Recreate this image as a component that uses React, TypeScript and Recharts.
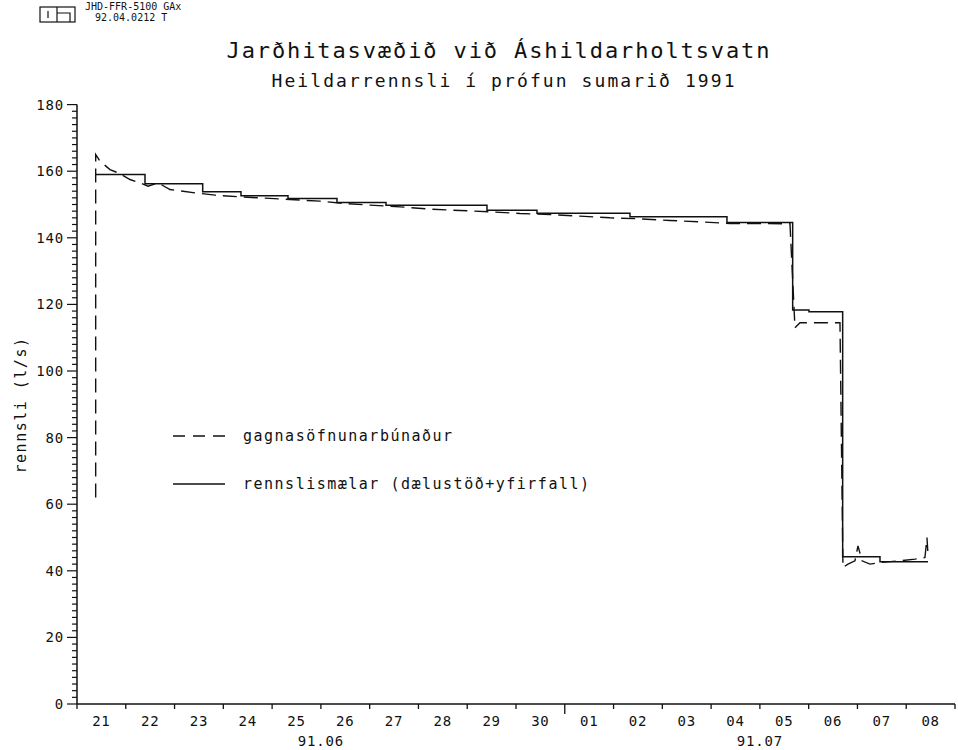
import React from "react";
import { LineChart, Line, XAxis, YAxis } from "recharts";

const FONT = "'DejaVu Sans Mono', 'Liberation Mono', monospace";
const INK = "#111";

// x = days since 21 June 1991 00:00 (18 days on the axis, to 08 July 24:00)
const DAY_LABELS = [
    "21", "22", "23", "24", "25", "26", "27", "28", "29", "30",
    "01", "02", "03", "04", "05", "06", "07", "08",
];
const MONTH_LABELS = ["91.06", "91.07"];
const MONTH_LABEL_DAY = [5, 14];
const MONTH_START_DAY = 10;
const Y_LABELS = [0, 20, 40, 60, 80, 100, 120, 140, 160, 180];

// rennslismælar (dælustöð+yfirfall) — stepped daily readings
const SOLID_T = [
    0.383, 1.394, 2.577, 3.362, 4.326, 5.33, 6.335, 8.405, 9.43, 11.337,
    13.325, 14.672, 15.006, 15.697, 16.462, 17.446,
];
const SOLID_V = [
    159, 156.2, 153.8, 152.6, 151.8, 150.6, 149.8, 148.3, 147.4, 146.3,
    144.6, 118.3, 117.8, 44.2, 42.7, 42.7,
];

// gagnasöfnunarbúnaður — logger record
const DASH_T = [
    0.383, 0.383, 0.472, 0.677, 0.841, 1.087, 1.292, 1.456, 1.661, 1.907,
    2.419, 2.829, 3.341, 3.854, 4.367, 4.982, 5.494, 6.007, 6.622, 7.237,
    7.852, 8.467, 9.082, 9.697, 10.312, 10.927, 11.542, 12.157, 12.772, 13.387,
    14.002, 14.617, 14.719, 14.822, 15.642, 15.703, 15.806, 15.949, 16.011, 16.093,
    16.257, 16.462, 16.872, 17.179, 17.384, 17.425, 17.446,
];
const DASH_V = [
    62, 165, 163, 160.5, 159.5, 157.5, 156.5, 155.5, 156.5, 154.5,
    153.5, 152.8, 152.3, 151.9, 151.5, 151, 150.3, 149.8, 149.3, 148.6,
    148.2, 147.8, 147.3, 147, 146.5, 146, 145.7, 145.2, 144.8, 144.3,
    144.3, 144.2, 113, 114.5, 114.5, 41, 42, 43, 47.5, 43,
    42, 42.5, 43, 43.5, 44, 50, 45,
];

const solidData = SOLID_T.map((t, i) => ({ t, v: SOLID_V[i] }));
const dashData = DASH_T.map((t, i) => ({ t, v: DASH_V[i] }));

const X_TICKS = Array.from({ length: DAY_LABELS.length * 2 + 1 }, (_, i) => i / 2);
const DAY_BOUNDS = Array.from({ length: DAY_LABELS.length + 1 }, (_, i) => i);
const Y_TICKS = Array.from({ length: 91 }, (_, i) => i * 2);

const tickText = { fontFamily: FONT, fontSize: 14, fill: INK, letterSpacing: 0.8 };

function BottomTick({ x, y, payload }: any) {
    const v = payload.value as number;
    if (Number.isInteger(v)) {
        const m = MONTH_LABEL_DAY.indexOf(v);
        return (
            <g>
                <line x1={x} x2={x} y1={y} y2={y + (v === MONTH_START_DAY ? 10 : 5)} stroke={INK} strokeWidth={1.3} />
                {m >= 0 && (
                    <text x={x} y={y + 42} textAnchor="middle" {...tickText}>
                        {MONTH_LABELS[m]}
                    </text>
                )}
            </g>
        );
    }
    return (
        <text x={x} y={y + 22} textAnchor="middle" {...tickText}>
            {DAY_LABELS[Math.floor(v)]}
        </text>
    );
}

function TopTick({ x, y }: any) {
    return <line x1={x} x2={x} y1={y} y2={y + 5} stroke={INK} strokeWidth={1.3} />;
}

function LeftTick({ x, y, payload }: any) {
    const major = Y_LABELS.includes(payload.value);
    return (
        <g>
            <line x1={x - (major ? 10 : 5)} x2={x} y1={y} y2={y} stroke={INK} strokeWidth={1.2} />
            {major && (
                <text x={x - 13} y={y + 5} textAnchor="end" {...tickText}>
                    {payload.value}
                </text>
            )}
        </g>
    );
}

function RightTick({ x, y, payload }: any) {
    const major = Y_LABELS.includes(payload.value);
    return <line x1={x - (major ? 9 : 5)} x2={x} y1={y} y2={y} stroke={INK} strokeWidth={1.2} />;
}

export default function App() {
    const axisLine = { stroke: INK, strokeWidth: 1.5 };
    return (
        <div style={{ position: "absolute", left: 0, top: 0, width: 958, height: 750, background: "#fff" }}>
            <LineChart width={958} height={750} margin={{ top: 104.6, right: 3, bottom: 6, left: 17 }}>
                <XAxis
                    dataKey="t"
                    type="number"
                    domain={[0, 18]}
                    ticks={X_TICKS}
                    interval={0}
                    height={40}
                    tickSize={0}
                    tickMargin={0}
                    tickLine={false}
                    axisLine={axisLine}
                    tick={<BottomTick />}
                    allowDataOverflow
                />
                <XAxis
                    xAxisId="top"
                    orientation="top"
                    dataKey="t"
                    type="number"
                    domain={[0, 18]}
                    ticks={DAY_BOUNDS}
                    interval={0}
                    height={0}
                    tickSize={0}
                    tickMargin={0}
                    tickLine={false}
                    axisLine={axisLine}
                    tick={<TopTick />}
                />
                <YAxis
                    type="number"
                    domain={[0, 180]}
                    ticks={Y_TICKS}
                    interval={0}
                    width={60}
                    tickSize={0}
                    tickMargin={0}
                    tickLine={false}
                    axisLine={axisLine}
                    tick={<LeftTick />}
                    allowDataOverflow
                />
                <YAxis
                    yAxisId="r"
                    orientation="right"
                    type="number"
                    domain={[0, 180]}
                    ticks={Y_TICKS}
                    interval={0}
                    width={0}
                    tickSize={0}
                    tickMargin={0}
                    tickLine={false}
                    axisLine={axisLine}
                    tick={<RightTick />}
                />
                <Line
                    data={dashData}
                    dataKey="v"
                    type="linear"
                    stroke={INK}
                    strokeWidth={1.4}
                    strokeDasharray="14 7"
                    dot={false}
                    isAnimationActive={false}
                />
                <Line
                    data={solidData}
                    dataKey="v"
                    type="stepAfter"
                    stroke={INK}
                    strokeWidth={1.5}
                    dot={false}
                    isAnimationActive={false}
                />
            </LineChart>

            <svg width={958} height={750} style={{ position: "absolute", left: 0, top: 0, pointerEvents: "none" }}>
                {/* logo + drawing id */}
                <rect x={40} y={7} width={35} height={15} fill="none" stroke={INK} strokeWidth={1.2} />
                <line x1={57} x2={57} y1={7} y2={22} stroke={INK} strokeWidth={1.2} />
                <line x1={48} x2={48} y1={11} y2={18} stroke={INK} strokeWidth={1.2} />
                <polyline points="57,13 70,13 70,22" fill="none" stroke={INK} strokeWidth={1.2} />
                <text x={85} y={10} fontFamily={FONT} fontSize={10} fill={INK}>JHD-FFR-5100 GAx</text>
                <text x={95} y={21} fontFamily={FONT} fontSize={10} fill={INK}>92.04.0212 T</text>

                <text x={498} y={58} textAnchor="middle" textLength={543} lengthAdjust="spacing"
                    fontFamily={FONT} fontSize={22} fill={INK}>
                    Jarðhitasvæðið við Áshildarholtsvatn
                </text>
                <text x={503} y={87} textAnchor="middle" textLength={463} lengthAdjust="spacing"
                    fontFamily={FONT} fontSize={18} fill={INK}>
                    Heildarrennsli í prófun sumarið 1991
                </text>

                <text x={21} y={405} transform="rotate(-90 21 405)" textAnchor="middle" dominantBaseline="central"
                    fontFamily={FONT} fontSize={15} letterSpacing={1.5} fill={INK}>
                    rennsli (l/s)
                </text>

                {/* legend */}
                <line x1={173} x2={225} y1={436} y2={436} stroke={INK} strokeWidth={1.4} strokeDasharray="12 8" />
                <text x={243} y={441} fontFamily={FONT} fontSize={15} letterSpacing={1.5} fill={INK}>
                    gagnasöfnunarbúnaður
                </text>
                <line x1={173} x2={225} y1={484} y2={484} stroke={INK} strokeWidth={1.4} />
                <text x={243} y={489} fontFamily={FONT} fontSize={15} letterSpacing={1.5} fill={INK}>
                    rennslismælar (dælustöð+yfirfall)
                </text>
            </svg>
        </div>
    );
}
